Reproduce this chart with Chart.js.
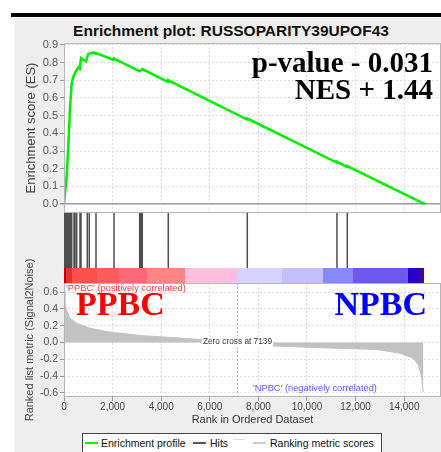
<!DOCTYPE html>
<html>
<head>
<meta charset="utf-8">
<title>Enrichment plot</title>
<script src="https://cdn.jsdelivr.net/npm/chart.js@4.4.1/dist/chart.umd.min.js"></script>
<style>
  html, body { margin: 0; padding: 0; background: #fff; }
  body { position: relative; width: 441px; height: 452px; overflow: hidden;
         font-family: "Liberation Sans", Arial, sans-serif; }
  #headTail { position: absolute; left: 263px; top: -36px; font: bold 34px/34px "Liberation Serif", serif; color: #000; }
  #rule  { position: absolute; left: 11px; top: 13px; width: 430px; height: 4px; background: #000; }
  #panel { position: absolute; left: 15px; top: 18px; width: 426px; height: 434px; background: #eeeeee; }
  #title { position: absolute; left: 15px; width: 432px; top: 23px; text-align: center;
           font-weight: bold; font-size: 15.5px; line-height: 16px; color: #111; }
  .box { position: absolute; left: 0; width: 441px; }
  .stat { position: absolute; right: 8px; font: bold 29px/27px "Liberation Serif", serif; color: #000; text-align: right; }
  .group { position: absolute; top: 287px; font: bold 34px/34px "Liberation Serif", serif; }
  #legend { position: absolute; left: 82px; top: 433px; width: 300px; height: 30px; box-sizing: border-box;
            border: 1px solid #444; background: #fff; font-size: 10.5px; color: #111; }
  #legend span { position: absolute; }
  #legend .txt { top: 3px; line-height: 13px; white-space: nowrap; }
  #legend .sw { top: 8px; width: 13px; height: 2px; }
</style>
</head>
<body>
<div id="headTail">y</div>
<div id="rule"></div>
<div id="panel"></div>
<div id="title">Enrichment plot: RUSSOPARITY39UPOF43</div>

<div class="box" style="top:33px;height:190px"><canvas id="esChart"></canvas></div>
<div class="box" style="top:213px;height:70px"><canvas id="hitChart"></canvas></div>
<div class="box" style="top:253px;height:177px"><canvas id="rankChart"></canvas></div>

<div class="stat" style="top:49px">p-value - 0.031</div>
<div class="stat" style="top:76px">NES + 1.44</div>
<div class="group" style="left:76px;color:#ff0000">PPBC</div>
<div class="group" style="right:14px;color:#0000ff">NPBC</div>

<div id="legend">
  <span class="sw" style="left:2px;background:#00ee00"></span>
  <span class="txt" style="left:18px">Enrichment profile</span>
  <span class="sw" style="left:110px;background:#555"></span>
  <span class="txt" style="left:127px">Hits</span>
  <span class="sw" style="left:150px;top:5px;width:12px;height:1px;background:#ddd"></span>
  <span class="sw" style="left:170px;background:#ccc"></span>
  <span class="txt" style="left:187px">Ranking metric scores</span>
</div>

<script>
// ── DATA ────────────────────────────────────────────────────
// x axis: rank in ordered dataset
const X_MAX   = 15515;
const X_TICKS = [0, 2000, 4000, 6000, 8000, 10000, 12000, 14000];

// running enrichment score
const ES_RANK  = [0, 110, 178, 247, 316, 384, 480, 590, 650, 700, 905, 1000, 1235, 1320, 1345,
                  2040, 2058, 3115, 3222, 4280, 4292, 7535, 7545, 11222, 11234, 11650, 11658, 14850];
const ES_SCORE = [0, 0.155, 0.334, 0.54, 0.683, 0.72, 0.749, 0.773, 0.765, 0.824, 0.805, 0.849, 0.856, 0.848, 0.852,
                  0.815, 0.822, 0.75, 0.763, 0.69, 0.699, 0.478, 0.483, 0.2345, 0.2395, 0.21, 0.215, 0];
const ES_TICKS = [0, 0.1, 0.2, 0.3, 0.4, 0.5, 0.6, 0.7, 0.8, 0.9];

// gene set members (hits)
const HIT_RANKS = [12, 41, 82, 123, 165, 206, 247, 288, 317, 411, 453, 523, 658, 700,
                   959, 1041, 1317, 2058, 3115, 3169, 3222, 4292, 7543, 11234, 11658];

// heat map bar under the hits
const BAR_EDGES  = [0, 82, 329, 1358, 2263, 3416, 4979, 7119, 8971, 10658, 11893, 14156, 14650, 14815];
const BAR_COLORS = ['#b80000', '#e83030', '#ff5050', '#ff5c5c', '#ff6878', '#ff8484', '#ffc0e0',
                    '#d4d4ff', '#c4c0ff', '#8888ff', '#6a5aee', '#2a00cc', '#4a0099'];

// ranked list metric (Signal2Noise)
const METRIC_RANK  = [0, 40, 111, 247, 523, 1070, 1893, 3128, 4226, 5597, 7139,
                      8547, 10535, 12593, 13004, 13827, 14375, 14580, 14720, 14761, 14790];
const METRIC_VALUE = [0.62, 0.47, 0.38, 0.29, 0.23, 0.17, 0.124, 0.084, 0.064, 0.036, 0,
                      -0.04, -0.062, -0.08, -0.088, -0.128, -0.188, -0.268, -0.41, -0.55, -0.59];
const RANK_TICKS = [-0.6, -0.4, -0.2, 0, 0.2, 0.4, 0.6];
const ZERO_CROSS = 7139;

// ── SHARED BITS ─────────────────────────────────────────────
const FONT = '"Liberation Sans", Arial, sans-serif';
Chart.defaults.font.family = FONT;
Chart.defaults.animation = false;

const GRID = '#dcdcdc';
const AXIS_W = 64;   // fixed y-axis width so the three panels line up

const fixTicks = list => scale => { scale.ticks = list.map(v => ({ value: v })); };

const framePlugin = {
  id: 'frame',
  beforeDraw(chart, args, opts) {
    const { ctx, chartArea: a } = chart;
    ctx.save();
    ctx.fillStyle = '#fff';
    ctx.fillRect(a.left, a.top, a.width, a.height);
    ctx.restore();
  },
  afterDraw(chart, args, opts) {
    if (!opts.stroke) return;
    const { ctx, chartArea: a } = chart;
    ctx.save();
    ctx.strokeStyle = opts.stroke;
    ctx.lineWidth = 1;
    ctx.strokeRect(a.left + 0.5, a.top + 0.5, a.width - 1, a.height - 1);
    ctx.restore();
  }
};

const baseOptions = (pad) => ({
  responsive: true,
  maintainAspectRatio: false,
  layout: { padding: pad },
  plugins: { legend: { display: false }, tooltip: { enabled: false } },
});

// ── ENRICHMENT SCORE ────────────────────────────────────────
new Chart(document.getElementById('esChart'), {
  type: 'scatter',
  data: {
    datasets: [{
      data: ES_RANK.map((r, i) => ({ x: r, y: ES_SCORE[i] })),
      showLine: true,
      borderColor: '#00ee00',
      borderWidth: 2.5,
      pointRadius: 0
    }]
  },
  options: {
    ...baseOptions({ top: 10, bottom: 10, left: 0, right: 0 }),
    plugins: { legend: { display: false }, tooltip: { enabled: false }, frame: { stroke: '#b5b5b5' } },
    scales: {
      x: {
        type: 'linear', min: 0, max: X_MAX,
        afterBuildTicks: fixTicks(X_TICKS),
        ticks: { display: false },
        grid: { color: GRID, drawTicks: false },
        border: { display: false, dash: [2, 2] },
        afterFit: s => { s.height = 0; }
      },
      y: {
        min: -0.05, max: 0.91,
        afterBuildTicks: fixTicks(ES_TICKS),
        ticks: { color: '#555', font: { size: 11 }, padding: 2, callback: v => v.toFixed(1) },
        grid: {
          color: c => (c.tick && c.tick.value === 0) ? '#9a9a9a' : GRID,
          lineWidth: c => (c.tick && c.tick.value === 0) ? 1.5 : 1,
          tickLength: 4, tickColor: '#999'
        },
        border: { display: false, dash: c => (c.tick && c.tick.value !== 0) ? [2, 2] : [] },
        title: { display: true, text: 'Enrichment score (ES)', color: '#444', font: { size: 13 }, padding: { top: 24 } },
        afterFit: s => { s.width = AXIS_W; }
      }
    }
  },
  plugins: [framePlugin]
});

// ── HITS + HEAT BAR ─────────────────────────────────────────
const HIT_BOTTOM = 15 / 70;     // hits sit above the 15px heat bar
const BAR_MID = 7.5 / 70;

new Chart(document.getElementById('hitChart'), {
  type: 'scatter',
  data: {
    datasets: [
      {
        data: HIT_RANKS.flatMap(r => [{ x: r, y: HIT_BOTTOM }, { x: r, y: 1 }, { x: r, y: null }]),
        showLine: true,
        spanGaps: false,
        borderColor: 'rgba(10,10,10,0.72)',
        borderWidth: 1.5,
        pointRadius: 0
      },
      {
        data: BAR_EDGES.map(r => ({ x: r, y: BAR_MID })),
        showLine: true,
        borderWidth: 15,
        borderCapStyle: 'butt',
        pointRadius: 0,
        segment: { borderColor: c => BAR_COLORS[c.p0DataIndex] },
        clip: false
      }
    ]
  },
  options: {
    ...baseOptions({ top: 0, bottom: 0, left: 0, right: 0 }),
    scales: {
      x: { type: 'linear', min: 0, max: X_MAX, display: false },
      y: {
        min: 0, max: 1,
        ticks: { display: false },
        grid: { display: false },
        border: { display: false },
        afterFit: s => { s.width = AXIS_W; }
      }
    }
  },
  plugins: [framePlugin]
});

// ── RANKED LIST METRIC ──────────────────────────────────────
const rankLabels = {
  id: 'rankLabels',
  afterDatasetsDraw(chart) {
    const { ctx, chartArea: a, scales: { x, y } } = chart;
    const zx = x.getPixelForValue(ZERO_CROSS);
    const zy = y.getPixelForValue(0);
    ctx.save();
    ctx.textBaseline = 'alphabetic';

    ctx.font = '9.3px ' + FONT;
    ctx.fillStyle = '#ff3c3c';
    ctx.textAlign = 'left';
    ctx.fillText("'PPBC' (positively correlated)", a.left + 2, a.top + 8);

    ctx.font = '8.3px ' + FONT;
    const label = 'Zero cross at ' + ZERO_CROSS;
    const w = ctx.measureText(label).width;
    ctx.fillStyle = '#fff';
    ctx.fillRect(zx - w / 2 - 1, zy - 7, w + 2, 12);
    ctx.fillStyle = '#333';
    ctx.textAlign = 'center';
    ctx.fillText(label, zx, zy + 1);

    ctx.font = '9.3px ' + FONT;
    ctx.fillStyle = '#5656ff';
    ctx.textAlign = 'left';
    ctx.fillText("'NPBC' (negatively correlated)", zx + 15.5, a.bottom - 6);
    ctx.restore();
  }
};

new Chart(document.getElementById('rankChart'), {
  type: 'scatter',
  data: {
    datasets: [
      {
        data: METRIC_RANK.map((r, i) => ({ x: r, y: METRIC_VALUE[i] })),
        showLine: true,
        fill: 'origin',
        backgroundColor: '#c2c2c2',
        borderColor: '#c2c2c2',
        borderWidth: 1,
        pointRadius: 0
      },
      {
        data: [{ x: ZERO_CROSS, y: -0.65 }, { x: ZERO_CROSS, y: 0.71 }],
        showLine: true,
        borderColor: '#a8a8a8',
        borderWidth: 1,
        borderDash: [2, 2],
        pointRadius: 0
      }
    ]
  },
  options: {
    ...baseOptions({ top: 30, bottom: 0, left: 0, right: 0 }),
    plugins: { legend: { display: false }, tooltip: { enabled: false }, frame: { stroke: '#b5b5b5' } },
    scales: {
      x: {
        type: 'linear', min: 0, max: X_MAX,
        afterBuildTicks: fixTicks(X_TICKS),
        ticks: { color: '#444', font: { size: 10 }, padding: 0, maxRotation: 0,
                 callback: v => v.toLocaleString('en-US') },
        grid: { color: GRID, tickLength: 4, tickColor: '#999' },
        border: { display: false, dash: c => c.tick ? [2, 2] : [] },
        title: { display: true, text: 'Rank in Ordered Dataset', color: '#333', font: { size: 11 }, padding: { top: 0, bottom: 3 } },
        afterFit: s => { s.height = 33; }
      },
      y: {
        min: -0.65, max: 0.71,
        afterBuildTicks: fixTicks(RANK_TICKS),
        ticks: { color: '#555', font: { size: 10.5 }, padding: 2, callback: v => v.toFixed(1) },
        grid: { color: GRID, tickLength: 4, tickColor: '#999' },
        border: { display: false, dash: c => c.tick ? [2, 2] : [] },
        title: { display: true, text: 'Ranked list metric (Signal2Noise)', color: '#444', font: { size: 11 }, padding: { top: 23.5 } },
        afterFit: s => { s.width = AXIS_W; }
      }
    }
  },
  plugins: [framePlugin, rankLabels]
});
</script>
</body>
</html>
